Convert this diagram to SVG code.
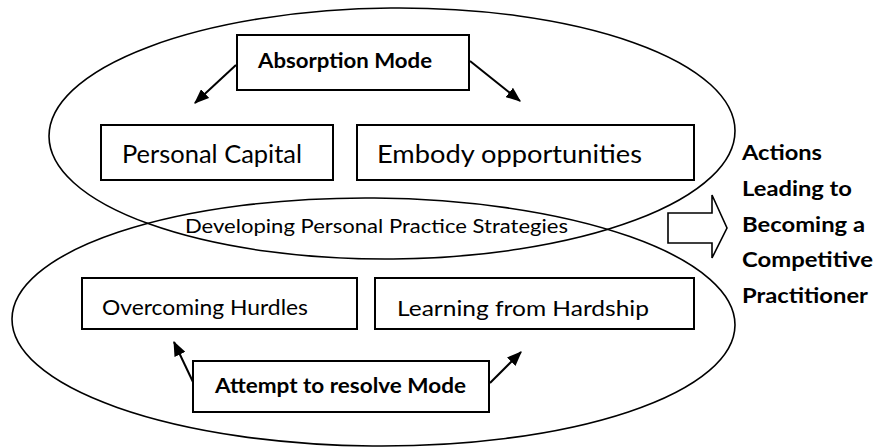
<svg xmlns="http://www.w3.org/2000/svg" width="878" height="448" viewBox="0 0 878 448">
  <style>
    .loop { fill: none; stroke: #000; stroke-width: 1.6; }
    .box { fill: #fff; stroke: #000; stroke-width: 2; }
    .link { fill: none; stroke: #000; stroke-width: 2; }
    .t { font-family: Lato, "Open Sans", sans-serif; fill: #000; }
    .big { font-size: 25px; }
    .mid { font-size: 22px; }
    .bold { font-size: 21px; font-weight: bold; }
    .small { font-size: 18.5px; }
    .side { font-size: 21px; font-weight: bold; }
  </style>
  <defs>
    <marker id="head" viewBox="0 0 12.5 10" refX="11.5" refY="5" markerWidth="7.5" markerHeight="6" orient="auto" markerUnits="strokeWidth">
      <path d="M0,0 L12.5,5 L0,10 Z" fill="#000"/>
    </marker>
  </defs>

  <!-- the two overlapping modes -->
  <g id="absorption-loop">
    <ellipse class="loop" cx="392" cy="133.5" rx="343" ry="125.5" transform="rotate(-0.5 392 133.5)"/>
  </g>
  <g id="resolve-loop">
    <ellipse class="loop" cx="373.5" cy="322" rx="361.5" ry="124" transform="rotate(0.5 373.5 322)"/>
  </g>

  <g id="absorption-mode">
    <rect class="box" x="237" y="35" width="232" height="55"/>
    <text class="t bold" x="258" y="68" textLength="174" lengthAdjust="spacingAndGlyphs">Absorption Mode</text>
  </g>
  <g id="personal-capital">
    <rect class="box" x="101" y="125" width="232" height="55"/>
    <text class="t big" x="122" y="163" textLength="180" lengthAdjust="spacingAndGlyphs">Personal Capital</text>
  </g>
  <g id="embody-opportunities">
    <rect class="box" x="357" y="125" width="337" height="55"/>
    <text class="t big" x="377" y="163" textLength="265" lengthAdjust="spacingAndGlyphs">Embody opportunities</text>
  </g>
  <g id="strategies">
    <text class="t small" x="185" y="233" textLength="383" lengthAdjust="spacingAndGlyphs">Developing Personal Practice Strategies</text>
  </g>
  <g id="overcoming-hurdles">
    <rect class="box" x="82" y="278" width="275" height="51"/>
    <text class="t mid" x="102" y="315" textLength="206" lengthAdjust="spacingAndGlyphs">Overcoming Hurdles</text>
  </g>
  <g id="learning-from-hardship">
    <rect class="box" x="375" y="278" width="319" height="51"/>
    <text class="t mid" x="397" y="316" textLength="252" lengthAdjust="spacingAndGlyphs">Learning from Hardship</text>
  </g>
  <g id="attempt-mode">
    <rect class="box" x="193" y="361" width="296" height="51"/>
    <text class="t bold" x="215" y="393" textLength="251" lengthAdjust="spacingAndGlyphs">Attempt to resolve Mode</text>
  </g>

  <g id="outcome">
    <path class="loop" d="M668,213 L712,213 L712,195 L727,228 L712,258 L712,243 L668,243 Z" fill="#fff"/>
    <text class="t side" x="742" y="160" textLength="80" lengthAdjust="spacingAndGlyphs">Actions</text>
    <text class="t side" x="742" y="196" textLength="110" lengthAdjust="spacingAndGlyphs">Leading to</text>
    <text class="t side" x="742" y="232" textLength="123" lengthAdjust="spacingAndGlyphs">Becoming a</text>
    <text class="t side" x="742" y="267" textLength="131" lengthAdjust="spacingAndGlyphs">Competitive</text>
    <text class="t side" x="742" y="303" textLength="126" lengthAdjust="spacingAndGlyphs">Practitioner</text>
  </g>

  <g id="connectors">
    <line class="link" x1="236" y1="65" x2="195" y2="103" marker-end="url(#head)"/>
    <line class="link" x1="470" y1="61" x2="520" y2="101" marker-end="url(#head)"/>
    <line class="link" x1="193" y1="382" x2="174" y2="342" marker-end="url(#head)"/>
    <line class="link" x1="490" y1="383" x2="521" y2="352" marker-end="url(#head)"/>
  </g>
</svg>
